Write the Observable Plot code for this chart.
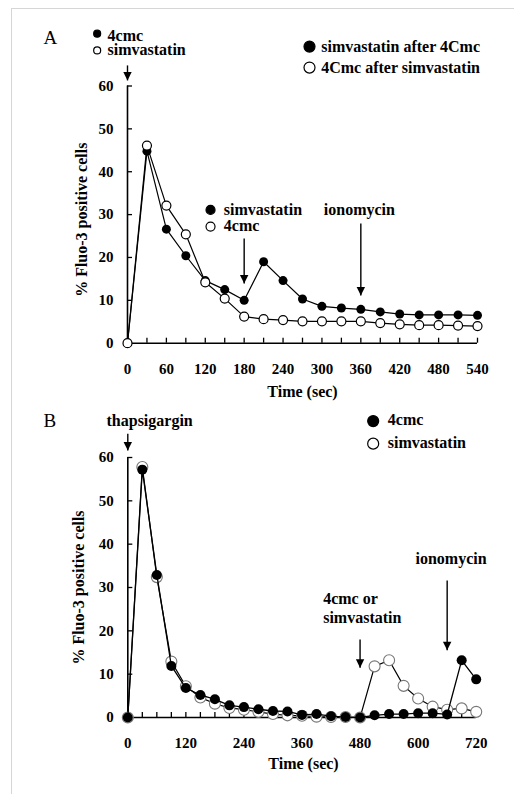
<!DOCTYPE html>
<html><head><meta charset="utf-8">
<script src="https://cdn.jsdelivr.net/npm/d3@7"></script>
<script src="https://cdn.jsdelivr.net/npm/@observablehq/plot@0.6"></script>
<style>
html,body{margin:0;padding:0;background:#fff;}
#wrap{position:relative;width:514px;height:794px;overflow:hidden;}
#frame{position:absolute;left:11px;top:8px;width:600px;height:900px;border-left:1px solid #d6d6d6;border-top:1px solid #d6d6d6;}
#pa{position:absolute;left:0;top:0;}
#pb{position:absolute;left:0;top:400px;}
#wrap svg{overflow:visible;}
#wrap svg, #wrap svg text{font-family:"Liberation Serif","Times New Roman",serif !important;}
</style></head>
<body><div id="wrap"><div id="frame"></div><div id="pa"></div><div id="pb"></div></div>
<script>
// ---------- Panel A data ----------
const timeA = [0,30,60,90,120,150,180,210,240,270,300,330,360,390,420,450,480,510,540];
const simAfter4cmcA = [0,44.8,26.6,20.4,14.6,12.5,10.0,19.0,14.6,10.3,8.6,8.2,7.9,7.3,6.8,6.6,6.6,6.6,6.5];
const cmcAfterSimA  = [0,46.1,32.1,25.4,14.2,10.4,6.2,5.6,5.4,5.1,5.1,5.1,5.1,4.7,4.4,4.2,4.2,4.1,4.0];
const xLabelsA = [0,60,120,180,240,300,360,420,480,540];

// ---------- Panel B data ----------
const timeB = [0,30,60,90,120,150,180,210,240,270,300,330,360,390,420,450,480,510,540,570,600,630,660,690,720];
const cmcB = [0,57.2,32.9,11.9,6.8,5.2,4.2,2.8,2.4,1.9,1.5,1.4,0.6,0.8,0.3,0.1,0,0.5,0.8,0.8,1.0,1.0,0.7,13.2,8.8];
const simB = [0,57.8,32.4,12.9,7.2,4.6,3.2,2.2,1.8,1.3,0.8,0.5,0.4,0.2,0.1,0.1,0,11.8,13.2,7.3,4.4,2.5,1.8,2.1,1.3];
const xLabelsB = [0,120,240,360,480,600,720];

const yLabels = [0,10,20,30,40,50,60];

// annotations (data coordinates)
const arrowsA = [{x:0,y1:64.8,y2:61.3},{x:180,y1:24.4,y2:13.9},{x:360,y1:27.9,y2:11.1}];
const arrowsB = [{x:0,y1:65.5,y2:61.6},{x:480,y1:18.0,y2:11.5},{x:660,y1:31.6,y2:15.5}];

const textsA = [
  {x:-30.8, y:70.4, t:"4cmc"},
  {x:-30.8, y:67.3, t:"simvastatin"},
  {x:298.9, y:68.0, t:"simvastatin after 4Cmc"},
  {x:298.9, y:63.1, t:"4Cmc after simvastatin"},
  {x:148.6, y:30.0, t:"simvastatin"},
  {x:148.6, y:26.1, t:"4cmc"},
  {x:302.9, y:30.0, t:"ionomycin"}
];
const legDotsA = [
  {x:-46.8, y:72.2, f:true, r:3.5},
  {x:-46.8, y:68.3, f:false, r:3.5},
  {x:280.8, y:69.2, f:true, r:5.5},
  {x:280.8, y:64.3, f:false, r:5.5},
  {x:128.1, y:31.1, f:true, r:4.5},
  {x:128.1, y:27.2, f:false, r:4.5}
];
const textsB = [
  {x:-44.0, y:67.3, t:"thapsigargin"},
  {x:537.3, y:67.4, t:"4cmc"},
  {x:537.3, y:62.2, t:"simvastatin"},
  {x:594.5, y:35.5, t:"ionomycin"},
  {x:403.8, y:26.3, t:"4cmc or"},
  {x:403.8, y:21.7, t:"simvastatin"}
];
const legDotsB = [
  {x:507.1, y:68.4, f:true},
  {x:507.1, y:63.2, f:false}
];

const downTri = {draw(ctx){ ctx.moveTo(0,0); ctx.lineTo(-4.2,-8.5); ctx.lineTo(4.2,-8.5); ctx.closePath(); }};

const FONT = "Liberation Serif";
const rowsA1 = timeA.map((t,i)=>({t, v: simAfter4cmcA[i]}));
const rowsA2 = timeA.map((t,i)=>({t, v: cmcAfterSimA[i]}));
const rowsB1 = timeB.map((t,i)=>({t, v: cmcB[i]}));
const rowsB2 = timeB.map((t,i)=>({t, v: simB[i]}));

function axes(xmax, minor, major) {
  return [
    Plot.ruleY([0], {x1: 0, x2: xmax, stroke: "#000", strokeWidth: 1.6}),
    Plot.ruleX([0], {y1: 0, y2: 60, stroke: "#000", strokeWidth: 1.6}),
    Plot.axisX({ticks: minor, tickSize: -5, tickFormat: () => "", label: null, strokeWidth: 1.3}),
    Plot.axisX({ticks: major, tickSize: 0, tickPadding: 20, label: null, fontSize: 15, fontWeight: "bold"}),
    Plot.axisY({ticks: yLabels, tickSize: -5, tickFormat: () => "", label: null, strokeWidth: 1.3}),
    Plot.axisY({ticks: yLabels, tickSize: 0, tickPadding: 14, label: null, fontSize: 15, fontWeight: "bold"})
  ];
}

const plotA = Plot.plot({
  width: 514, height: 410,
  marginLeft: 127, marginRight: 37, marginTop: 85.5, marginBottom: 67.3,
  x: {domain: [0, 540]}, y: {domain: [0, 60]}, r: {type: "identity"},
  style: {fontFamily: FONT, fontWeight: "bold", fontSize: "15px", color: "#000", background: "transparent", overflow: "visible"},
  marks: [
    ...axes(540, timeA, xLabelsA),
    Plot.text(["Time (sec)"], {x: 270, y: -12.6, text: d => d, fontSize: 16, fontWeight: "bold", lineAnchor: "bottom"}),
    Plot.text(["% Fluo-3 positive cells"], {x: -71, y: 28.8, text: d => d, rotate: -90, fontSize: 16, fontWeight: "bold"}),
    Plot.text(["A"], {x: -129.6, y: 69.9, text: d => d, fontSize: 19, fontWeight: "normal", textAnchor: "start", lineAnchor: "bottom"}),
    Plot.line(rowsA1, {x: "t", y: "v", stroke: "#000", strokeWidth: 1.2}),
    Plot.dot(rowsA1, {x: "t", y: "v", r: 4.5, fill: "#000"}),
    Plot.line(rowsA2, {x: "t", y: "v", stroke: "#000", strokeWidth: 1.2}),
    Plot.dot(rowsA2, {x: "t", y: "v", r: 4.5, fill: "#fff", stroke: "#000", strokeWidth: 1.2}),
    Plot.link(arrowsA, {x1: "x", x2: "x", y1: "y1", y2: "y2", stroke: "#000", strokeWidth: 1.4}),
    Plot.dot(arrowsA, {x: "x", y: "y2", symbol: downTri, fill: "#000", stroke: "none"}),
    Plot.dot(legDotsA, {x: "x", y: "y", r: "r", fill: d => d.f ? "#000" : "#fff", stroke: "#000", strokeWidth: 1.2}),
    Plot.text(textsA, {x: "x", y: "y", text: "t", textAnchor: "start", lineAnchor: "bottom", fontSize: 16, fontWeight: "bold"})
  ]
});
document.getElementById("pa").append(plotA);

const plotB = Plot.plot({
  width: 514, height: 394,
  marginLeft: 127.3, marginRight: 38.3, marginTop: 57, marginBottom: 77,
  x: {domain: [0, 720]}, y: {domain: [0, 60]},
  style: {fontFamily: FONT, fontWeight: "bold", fontSize: "15px", color: "#000", background: "transparent", overflow: "visible"},
  marks: [
    ...axes(720, timeB, xLabelsB),
    Plot.text(["Time (sec)"], {x: 363.1, y: -11.8, text: d => d, fontSize: 16, fontWeight: "bold", lineAnchor: "bottom"}),
    Plot.text(["% Fluo-3 positive cells"], {x: -101.9, y: 30, text: d => d, rotate: -90, fontSize: 16, fontWeight: "bold"}),
    Plot.text(["B"], {x: -174.2, y: 67.1, text: d => d, fontSize: 19, fontWeight: "normal", textAnchor: "start", lineAnchor: "bottom"}),
    Plot.line(rowsB2, {x: "t", y: "v", stroke: "#000", strokeWidth: 1.2}),
    Plot.dot(rowsB2, {x: "t", y: "v", r: 5.5, fill: "#fff", stroke: "#777", strokeWidth: 1.1}),
    Plot.line(rowsB1, {x: "t", y: "v", stroke: "#000", strokeWidth: 1.3}),
    Plot.dot(rowsB1, {x: "t", y: "v", r: 5, fill: "#000"}),
    Plot.link(arrowsB, {x1: "x", x2: "x", y1: "y1", y2: "y2", stroke: "#000", strokeWidth: 1.4}),
    Plot.dot(arrowsB, {x: "x", y: "y2", symbol: downTri, fill: "#000", stroke: "none"}),
    Plot.dot(legDotsB, {x: "x", y: "y", r: 5.5, fill: d => d.f ? "#000" : "#fff", stroke: "#000", strokeWidth: 1.2}),
    Plot.text(textsB, {x: "x", y: "y", text: "t", textAnchor: "start", lineAnchor: "bottom", fontSize: 16, fontWeight: "bold"})
  ]
});
document.getElementById("pb").append(plotB);
</script>
</body></html>
